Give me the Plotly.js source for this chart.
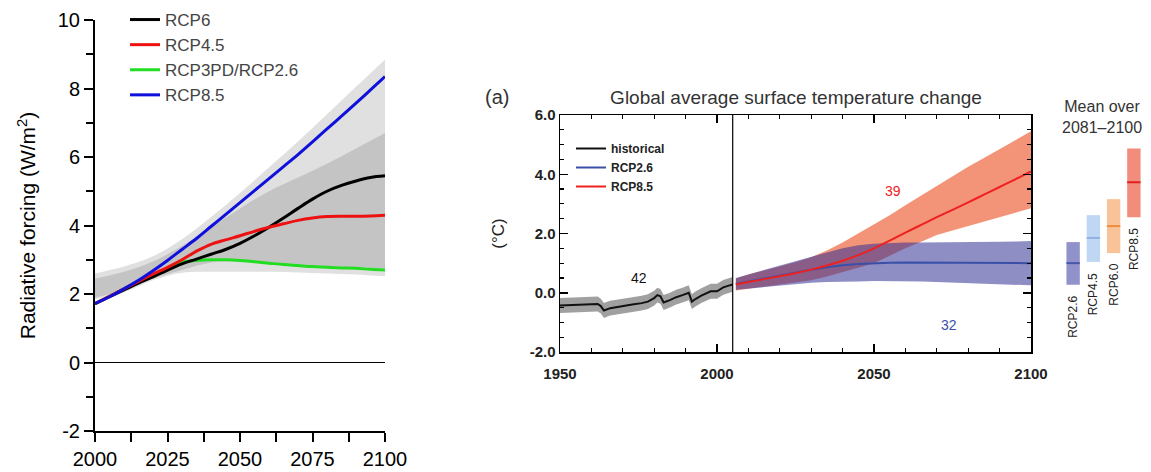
<!DOCTYPE html>
<html>
<head>
<meta charset="utf-8">
<script src="https://cdn.plot.ly/plotly-3.0.1.min.js"></script>
<style>html,body{margin:0;padding:0;background:#fff;}#chart{width:1151px;height:472px;}</style>
</head>
<body>
<div id="chart"></div>
<script>
// ---------- Left panel: radiative forcing ----------
const forcingYears = [2000,2005,2010,2015,2020,2025,2030,2035,2040,2045,2050,2055,2060,2065,2070,2075,2080,2085,2090,2095,2100];
const rcp6Forcing  = [1.72,1.92,2.12,2.32,2.50,2.70,2.88,3.02,3.16,3.30,3.48,3.70,3.95,4.22,4.50,4.77,5.00,5.17,5.30,5.40,5.45];
const rcp45Forcing = [1.72,1.93,2.15,2.37,2.58,2.78,3.00,3.25,3.45,3.58,3.70,3.83,3.95,4.05,4.15,4.22,4.26,4.27,4.27,4.28,4.30];
const rcp3Forcing  = [1.72,1.93,2.15,2.35,2.55,2.75,2.92,2.98,3.00,3.00,2.98,2.94,2.90,2.86,2.83,2.80,2.78,2.76,2.75,2.72,2.70];
const rcp85Forcing = [1.72,1.92,2.15,2.40,2.68,2.98,3.30,3.62,3.97,4.32,4.67,5.02,5.37,5.72,6.07,6.44,6.82,7.19,7.57,7.96,8.35];

const bandYears  = [2000,2010,2020,2030,2040,2050,2060,2070,2080,2090,2100];
const outerUpper = [2.60,2.80,3.10,3.60,4.25,4.95,5.70,6.45,7.25,8.05,8.85];
const outerLower = [1.85,2.05,2.40,2.62,2.65,2.65,2.65,2.63,2.60,2.57,2.52];
const innerUpper = [2.45,2.65,2.95,3.40,3.95,4.50,5.00,5.40,5.80,6.25,6.70];
const innerLower = [1.90,2.10,2.45,2.70,2.92,2.95,2.90,2.86,2.82,2.78,2.75];

const forcingTickVals = [-2,0,2,4,6,8,10];
const forcingTickText = ['-2','0','2','4','6','8','10'];

// ---------- Right panel: temperature change ----------
const histYears = [1950,1953,1956,1960,1962,1963,1964,1966,1968,1970,1973,1976,1978,1980,1981,1982,1983,1985,1987,1989,1991,1992,1993,1995,1997,1998,2000,2002,2004,2005];
const histMean  = [-0.43,-0.42,-0.40,-0.38,-0.38,-0.45,-0.60,-0.52,-0.48,-0.45,-0.40,-0.35,-0.30,-0.18,-0.08,-0.12,-0.33,-0.25,-0.15,-0.08,0.00,-0.30,-0.22,-0.10,0.00,0.05,0.05,0.18,0.25,0.28];
const histUpper = [-0.18,-0.17,-0.15,-0.13,-0.13,-0.20,-0.35,-0.27,-0.23,-0.20,-0.15,-0.10,-0.05,0.07,0.17,0.13,-0.08,0.00,0.10,0.17,0.25,-0.05,0.03,0.15,0.25,0.30,0.30,0.43,0.50,0.53];
const histLower = [-0.68,-0.67,-0.65,-0.63,-0.63,-0.70,-0.85,-0.77,-0.73,-0.70,-0.65,-0.60,-0.55,-0.43,-0.33,-0.37,-0.58,-0.50,-0.40,-0.33,-0.25,-0.55,-0.47,-0.35,-0.25,-0.20,-0.20,-0.07,0.00,0.03];

const projYears  = [2006,2010,2015,2020,2025,2030,2035,2040,2045,2050,2055,2060,2065,2070,2075,2080,2085,2090,2095,2100];
const rcp26Mean  = [0.30,0.38,0.50,0.60,0.70,0.78,0.86,0.93,0.97,1.00,1.01,1.02,1.02,1.01,1.00,1.00,1.01,1.00,1.00,1.00];
const rcp26Upper = [0.50,0.62,0.78,0.92,1.08,1.22,1.36,1.50,1.60,1.65,1.68,1.70,1.70,1.70,1.70,1.70,1.72,1.72,1.73,1.75];
const rcp26Lower = [0.10,0.14,0.20,0.26,0.30,0.34,0.36,0.36,0.38,0.40,0.40,0.40,0.38,0.36,0.34,0.32,0.30,0.28,0.26,0.25];
const rcp85Mean  = [0.28,0.36,0.46,0.56,0.66,0.78,0.92,1.08,1.27,1.50,1.76,2.03,2.29,2.55,2.80,3.05,3.31,3.57,3.83,4.10];
const rcp85Upper = [0.48,0.62,0.75,0.88,1.03,1.20,1.43,1.70,2.00,2.30,2.62,2.95,3.28,3.60,3.93,4.25,4.55,4.85,5.15,5.45];
const rcp85Lower = [0.08,0.14,0.22,0.28,0.35,0.42,0.55,0.70,0.85,1.00,1.25,1.50,1.72,1.95,2.10,2.25,2.40,2.55,2.70,2.85];

const tempTickVals = [-2,0,2,4,6];
const tempTickText = ['-2.0','0.0','2.0','4.0','6.0'];

// Mean over 2081-2100
const meanScenarios = ['RCP2.6','RCP4.5','RCP6.0','RCP8.5'];
const meanLow  = [0.27,1.04,1.34,2.55];
const meanHigh = [1.71,2.62,3.16,4.87];
const meanVal  = [1.00,1.85,2.25,3.73];
const meanFill = ['rgba(110,110,185,0.75)','rgba(175,205,240,0.8)','rgba(248,185,135,0.85)','rgba(240,120,100,0.85)'];
const meanLine = ['#4858a8','#8fb2e2','#f08a3c','#e02020'];

// ---------- traces ----------
const traces = [];
const L = {xaxis:'x', yaxis:'y'};
traces.push({...L, x:bandYears, y:outerLower, mode:'lines', line:{width:0, color:'#e0e0e0', shape:'spline'}, showlegend:false, hoverinfo:'skip'});
traces.push({...L, x:bandYears, y:outerUpper, mode:'lines', line:{width:0, color:'#e0e0e0', shape:'spline'}, fill:'tonexty', fillcolor:'#e0e0e0', showlegend:false, hoverinfo:'skip'});
traces.push({...L, x:bandYears, y:innerLower, mode:'lines', line:{width:0, color:'#c4c4c4', shape:'spline'}, showlegend:false, hoverinfo:'skip'});
traces.push({...L, x:bandYears, y:innerUpper, mode:'lines', line:{width:0, color:'#c4c4c4', shape:'spline'}, fill:'tonexty', fillcolor:'#c4c4c4', showlegend:false, hoverinfo:'skip'});
traces.push({...L, x:forcingYears, y:rcp3Forcing, name:'RCP3PD/RCP2.6', mode:'lines', line:{color:'#22dd22', width:3, shape:'spline'}, legendrank:3});
traces.push({...L, x:forcingYears, y:rcp6Forcing, name:'RCP6', mode:'lines', line:{color:'#000000', width:3, shape:'spline'}, legendrank:1});
traces.push({...L, x:forcingYears, y:rcp45Forcing, name:'RCP4.5', mode:'lines', line:{color:'#ee1111', width:3, shape:'spline'}, legendrank:2});
traces.push({...L, x:forcingYears, y:rcp85Forcing, name:'RCP8.5', mode:'lines', line:{color:'#1010dd', width:3, shape:'spline'}, legendrank:4});

const R = {xaxis:'x2', yaxis:'y2'};
traces.push({...R, x:histYears, y:histLower, mode:'lines', line:{width:0}, showlegend:false, hoverinfo:'skip'});
traces.push({...R, x:histYears, y:histUpper, mode:'lines', line:{width:0}, fill:'tonexty', fillcolor:'rgba(120,120,120,0.7)', showlegend:false, hoverinfo:'skip'});
traces.push({...R, x:projYears, y:rcp85Lower, mode:'lines', line:{width:0}, showlegend:false, hoverinfo:'skip'});
traces.push({...R, x:projYears, y:rcp85Upper, mode:'lines', line:{width:0}, fill:'tonexty', fillcolor:'rgba(240,120,85,0.8)', showlegend:false, hoverinfo:'skip'});
traces.push({...R, x:projYears, y:rcp26Lower, mode:'lines', line:{width:0}, showlegend:false, hoverinfo:'skip'});
traces.push({...R, x:projYears, y:rcp26Upper, mode:'lines', line:{width:0}, fill:'tonexty', fillcolor:'rgba(50,50,150,0.55)', showlegend:false, hoverinfo:'skip'});
traces.push({...R, x:histYears, y:histMean, name:'historical', mode:'lines', line:{color:'#111', width:2}, legend:'legend2'});
traces.push({...R, x:projYears, y:rcp26Mean, name:'RCP2.6', mode:'lines', line:{color:'#3a50a8', width:2}, legend:'legend2'});
traces.push({...R, x:projYears, y:rcp85Mean, name:'RCP8.5', mode:'lines', line:{color:'#ee2020', width:2, shape:'spline'}, legend:'legend2'});

// mean boxes (own hidden axes, same vertical scale as the temperature panel)
const idx = meanScenarios.map((s,i)=>i);
traces.push({xaxis:'x3', yaxis:'y3', type:'bar', x:idx, y:meanHigh.map((h,i)=>h-meanLow[i]), base:meanLow,
  width:0.66, marker:{color:meanFill, line:{width:0}}, showlegend:false, hoverinfo:'skip'});
meanScenarios.forEach((s,i)=>{
  traces.push({xaxis:'x3', yaxis:'y3', x:[idx[i]-0.33, idx[i]+0.33], y:[meanVal[i], meanVal[i]], mode:'lines',
    line:{color:meanLine[i], width:2}, showlegend:false, hoverinfo:'skip'});
});

// ---------- layout ----------
const W = 1151, H = 472;
const px = v => v / W, py = v => 1 - v / H;
const font = 'Liberation Sans, Arial, Helvetica, sans-serif';

const annotations = [
  {xref:'paper', yref:'paper', x:px(497), y:py(97), text:'(a)', showarrow:false, font:{family:font, size:20, color:'#333'}, xanchor:'center', yanchor:'middle'},
  {xref:'x2', yref:'y2', x:1975, y:0.5, text:'42', showarrow:false, font:{family:font, size:14, color:'#111'}},
  {xref:'x2', yref:'y2', x:2056, y:3.45, text:'39', showarrow:false, font:{family:font, size:14, color:'#ee2020'}},
  {xref:'x2', yref:'y2', x:2074, y:-1.1, text:'32', showarrow:false, font:{family:font, size:14, color:'#3a50a8'}},
  {xref:'paper', yref:'paper', x:px(1102), y:py(117), text:'Mean over<br>2081–2100', showarrow:false, align:'center', font:{family:font, size:16, color:'#333'}, xanchor:'center', yanchor:'middle'}
];
meanScenarios.forEach((s,i)=>{
  annotations.push({xref:'x3', yref:'y3', x:idx[i], y:meanLow[i], text:s, textangle:-90, showarrow:false,
    xanchor:'center', yanchor:'top', yshift:-9, font:{family:font, size:12, color:'#222'}});
});

const layout = {
  width:W, height:H, margin:{l:0,r:0,t:0,b:0}, paper_bgcolor:'#fff', plot_bgcolor:'rgba(0,0,0,0)',
  font:{family:font, color:'#000'},
  showlegend:true,
  xaxis:{domain:[px(95), px(385)], range:[2000,2100], anchor:'y', showgrid:false, zeroline:false,
    showline:true, linecolor:'#000', linewidth:2, ticks:'outside', ticklen:9, tickwidth:2, tickcolor:'#000',
    tick0:2000, dtick:25, tickfont:{size:20, color:'#000'},
    minor:{dtick:12.5, ticks:'outside', ticklen:9, tickwidth:2, tickcolor:'#000'}},
  yaxis:{domain:[py(431), py(20)], range:[-2,10], anchor:'x', showgrid:false,
    zeroline:true, zerolinecolor:'#000', zerolinewidth:1.5,
    showline:true, linecolor:'#000', linewidth:2, ticks:'outside', ticklen:9, tickwidth:2, tickcolor:'#000',
    tickvals:forcingTickVals, ticktext:forcingTickText, tickfont:{size:20, color:'#000'},
    minor:{dtick:1, ticks:'outside', ticklen:7, tickwidth:2, tickcolor:'#000'},
    title:{text:'Radiative forcing (W/m<sup>2</sup>)', font:{size:21, color:'#000'}, standoff:16}},
  xaxis2:{domain:[px(560), px(1031)], range:[1950,2100], anchor:'y2', showgrid:false, zeroline:false,
    showline:true, mirror:'allticks', linecolor:'#000', linewidth:1.5, ticks:'inside', ticklen:8, tickwidth:1.5, tickcolor:'#000',
    tick0:1950, dtick:50, tickfont:{size:15, color:'#222', weight:'bold'}, ticklabelstandoff:7,
    minor:{dtick:10, ticks:'inside', ticklen:4, tickwidth:1.2, tickcolor:'#000'}},
  yaxis2:{domain:[py(352), py(115)], range:[-2,6], anchor:'x2', showgrid:false, zeroline:false,
    showline:true, mirror:'allticks', linecolor:'#000', linewidth:1.5, ticks:'inside', ticklen:8, tickwidth:1.5, tickcolor:'#000',
    tickvals:tempTickVals, ticktext:tempTickText, tickfont:{size:15, color:'#222', weight:'bold'},
    minor:{dtick:0.5, ticks:'inside', ticklen:4, tickwidth:1.2, tickcolor:'#000'},
    title:{text:'(°C)', font:{size:17, color:'#222'}, standoff:20}},
  xaxis3:{domain:[px(1063), px(1144)], range:[-0.5,3.5], anchor:'y3', visible:false},
  yaxis3:{domain:[py(352), py(115)], range:[-2,6], anchor:'x3', visible:false},
  title:{text:'Global average surface temperature change', x:px(796), xanchor:'center', y:py(97), yanchor:'middle',
    font:{family:font, size:19, color:'#333'}},
  legend:{x:px(125), y:py(2), xanchor:'left', yanchor:'top', bgcolor:'rgba(0,0,0,0)', font:{size:17, color:'#444'},
    tracegroupgap:0, traceorder:'normal'},
  legend2:{x:px(571), y:py(134), xanchor:'left', yanchor:'top', bgcolor:'rgba(0,0,0,0)', font:{size:12, color:'#222', weight:'bold'},
    tracegroupgap:0, itemwidth:30},
  shapes:[{type:'line', xref:'x2', yref:'y2', x0:2005, x1:2005, y0:-2, y1:6, line:{color:'#000', width:1.2}}],
  annotations:annotations
};

Plotly.newPlot('chart', traces, layout, {displayModeBar:false, staticPlot:true});
</script>
</body>
</html>
